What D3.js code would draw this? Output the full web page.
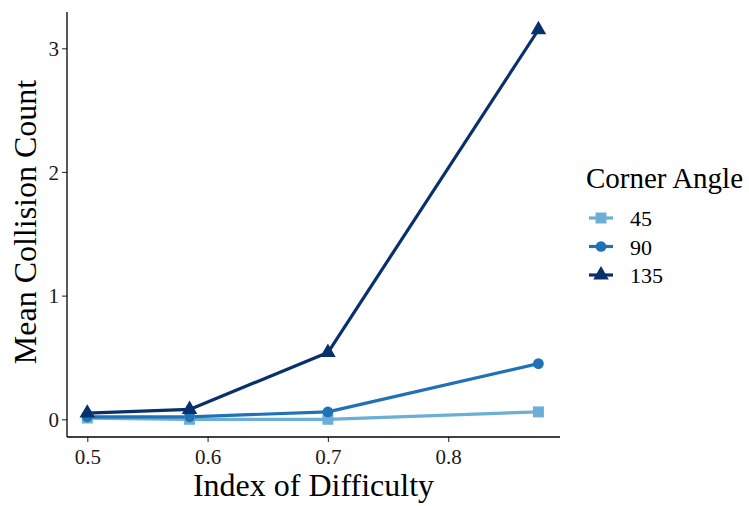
<!DOCTYPE html>
<html>
<head>
<meta charset="utf-8">
<script src="https://cdn.jsdelivr.net/npm/d3@7"></script>
<style>
  html, body { margin: 0; padding: 0; background: #fff; }
  svg { display: block; }
  svg text { font-family: "Liberation Serif", "Times New Roman", "DejaVu Serif", serif; }
</style>
</head>
<body>
<svg id="chart" width="749" height="506"></svg>
<script>
// Index of difficulty levels (x) and mean collision counts per corner angle
const difficulty = [0.5, 0.585, 0.7, 0.875];
const angles = ["45", "90", "135"];
const collisions45 = [0.01, 0.0, 0.0, 0.06];
const collisions90 = [0.02, 0.02, 0.06, 0.45];
const collisions135 = [0.05, 0.08, 0.54, 3.15];
const xTicks = [0.5, 0.6, 0.7, 0.8];
const yTicks = [0, 1, 2, 3];

const colors = ["#6baed6", "#2171b5", "#08306b"];
const shapes = [d3.symbolSquare, d3.symbolCircle, d3.symbolTriangle];
const symbolSizes = [120, 90, 105];

const series = [collisions45, collisions90, collisions135].map((vals, i) => ({
  angle: angles[i],
  color: colors[i],
  shape: shapes[i],
  size: symbolSizes[i],
  points: vals.map((v, j) => ({ x: difficulty[j], y: v }))
}));

const svg = d3.select("#chart");
const plotLeft = 67, plotRight = 560, plotTop = 12, plotBottom = 437;

const x = d3.scaleLinear().domain([0.5, 0.8]).range([87.3, 448.2]);
const y = d3.scaleLinear().domain([0, 3]).range([419.3, 48.3]);

// Axes
const xAxis = svg.append("g").attr("transform", `translate(0,${plotBottom})`)
  .call(d3.axisBottom(x).tickValues(xTicks).tickFormat(d3.format(".1f")).tickSize(5).tickPadding(4));
const yAxis = svg.append("g").attr("transform", `translate(${plotLeft},0)`)
  .call(d3.axisLeft(y).tickValues(yTicks).tickFormat(d3.format("d")).tickSize(5).tickPadding(3));

[xAxis, yAxis].forEach(g => {
  g.attr("font-family", null).attr("font-size", null);
  g.select(".domain").remove();
  g.selectAll(".tick line").attr("stroke", "#333").attr("stroke-width", 1.1);
  g.selectAll(".tick text").attr("fill", "#1a1a1a").style("font-size", "21px");
});
xAxis.selectAll(".tick text").attr("dy", null).attr("y", 27);
yAxis.selectAll(".tick text").attr("dy", "0.34em");

// Axis lines
svg.append("line").attr("x1", plotLeft).attr("x2", plotLeft).attr("y1", plotTop).attr("y2", plotBottom)
  .attr("stroke", "#000").attr("stroke-width", 1.3);
svg.append("line").attr("x1", plotLeft).attr("x2", plotRight).attr("y1", plotBottom).attr("y2", plotBottom)
  .attr("stroke", "#000").attr("stroke-width", 1.3);

// Axis titles
svg.append("text").attr("x", (plotLeft + plotRight) / 2).attr("y", 496)
  .attr("text-anchor", "middle").style("font-size", "32px").attr("fill", "#000")
  .text("Index of Difficulty");
svg.append("text").attr("transform", "translate(36,222) rotate(-90)")
  .attr("text-anchor", "middle").style("font-size", "32px").attr("fill", "#000")
  .text("Mean Collision Count");

// Lines and markers
const line = d3.line().x(d => x(d.x)).y(d => y(d.y));
series.forEach(s => {
  svg.append("path").datum(s.points).attr("d", line)
    .attr("fill", "none").attr("stroke", s.color).attr("stroke-width", 3.2)
    .attr("stroke-linejoin", "round");
});
series.forEach(s => {
  svg.selectAll(null).data(s.points).enter().append("path")
    .attr("transform", d => `translate(${x(d.x)},${y(d.y)})`)
    .attr("d", d3.symbol().type(s.shape).size(s.size))
    .attr("fill", s.color);
});

// Legend
const legend = svg.append("g");
legend.append("text").attr("x", 586).attr("y", 188)
  .style("font-size", "29px").attr("fill", "#000").text("Corner Angle");
series.forEach((s, i) => {
  const cy = 218 + i * 28.5;
  legend.append("line").attr("x1", 589).attr("x2", 613).attr("y1", cy).attr("y2", cy)
    .attr("stroke", s.color).attr("stroke-width", 3.2);
  legend.append("path").attr("transform", `translate(601,${cy})`)
    .attr("d", d3.symbol().type(s.shape).size(s.size)).attr("fill", s.color);
  legend.append("text").attr("x", 630).attr("y", cy + 8)
    .style("font-size", "22px").attr("fill", "#000").text(s.angle);
});
</script>
</body>
</html>
